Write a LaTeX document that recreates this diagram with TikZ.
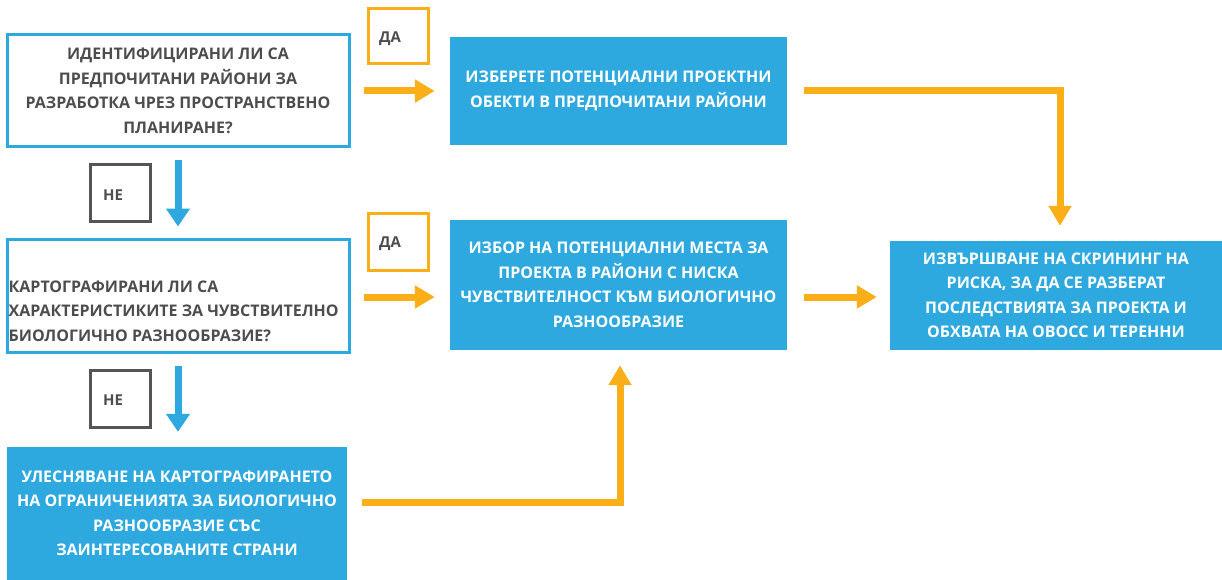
\documentclass[tikz,border=0pt]{standalone}
\usepackage{fontspec}
\setmainfont{Open Sans}
\usetikzlibrary{arrows.meta,calc}
\definecolor{flowblue}{RGB}{46,169,223}
\definecolor{floworange}{RGB}{250,174,23}
\definecolor{flowgrey}{RGB}{77,77,77}
\definecolor{flowdark}{RGB}{85,85,85}
\tikzset{
  base/.style={font=\fontsize{16}{24.5}\selectfont\bfseries, inner sep=0pt, align=center},
  question/.style={base, draw=flowblue, line width=3pt, text=flowgrey},
  action/.style={base, fill=flowblue, text=white},
  answer/.style={base, text=flowgrey, font=\fontsize{15}{17}\selectfont\bfseries},
  yesbox/.style={draw=floworange, line width=3pt, minimum width=60pt, minimum height=55pt},
  nobox/.style={draw=flowdark, line width=3pt, minimum width=60pt, minimum height=56pt},
  oarrow/.style={draw=floworange, line width=7pt, line cap=butt,
    -{Triangle[length=20pt,width=22pt]}},
  barrow/.style={draw=flowblue, line width=7pt, line cap=butt,
    -{Triangle[length=18pt,width=23pt]}}
}
\begin{document}
\begin{tikzpicture}[x=1pt,y=-1pt]
\useasboundingbox (0,0) rectangle (1222,580);

% decision boxes
\node[question, minimum width=342pt, minimum height=112pt] (q1) at (178,91)
  {ИДЕНТИФИЦИРАНИ ЛИ СА\\ПРЕДПОЧИТАНИ РАЙОНИ ЗА\\РАЗРАБОТКА ЧРЕЗ ПРОСТРАНСТВЕНО\\ПЛАНИРАНЕ?};
\node[question, minimum width=342pt, minimum height=113pt] (q2) at (178,295.5) {};
\node[base, text=flowgrey, align=left, anchor=south west] (q2text) at ([shift={(3pt,12pt)}]q2.south west)
  {КАРТОГРАФИРАНИ ЛИ СА\\ХАРАКТЕРИСТИКИТЕ ЗА ЧУВСТВИТЕЛНО\\БИОЛОГИЧНО РАЗНООБРАЗИЕ?};

% action boxes
\node[action, minimum width=337pt, minimum height=108pt] (A) at (618.5,91)
  {ИЗБЕРЕТЕ ПОТЕНЦИАЛНИ ПРОЕКТНИ\\ОБЕКТИ В ПРЕДПОЧИТАНИ РАЙОНИ};
\node[action, minimum width=337pt, minimum height=130pt] (B) at (618.5,285)
  {ИЗБОР НА ПОТЕНЦИАЛНИ МЕСТА ЗА\\ПРОЕКТА В РАЙОНИ С НИСКА\\ЧУВСТВИТЕЛНОСТ КЪМ БИОЛОГИЧНО\\РАЗНООБРАЗИЕ};
\node[action, minimum width=340pt, minimum height=133pt] (C) at (177,513.5)
  {УЛЕСНЯВАНЕ НА КАРТОГРАФИРАНЕТО\\НА ОГРАНИЧЕНИЯТА ЗА БИОЛОГИЧНО\\РАЗНООБРАЗИЕ СЪС\\ЗАИНТЕРЕСОВАНИТЕ СТРАНИ};
\node[action, minimum width=332pt, minimum height=109pt] (D) at (1056,295.5)
  {ИЗВЪРШВАНЕ НА СКРИНИНГ НА\\РИСКА, ЗА ДА СЕ РАЗБЕРАТ\\ПОСЛЕДСТВИЯТА ЗА ПРОЕКТА И\\ОБХВАТА НА ОВОСС И ТЕРЕННИ};

% answer labels
\node[yesbox] (yes1) at (398,36) {};
\node[answer] (yes1t) at (390,39) {ДА};
\node[yesbox, minimum height=57pt] (yes2) at (398,241.5) {};
\node[answer] (yes2t) at (390,244) {ДА};
\node[nobox] (no1) at (120,193) {};
\node[answer] (no1t) at (113,195) {НЕ};
\node[nobox, minimum height=57pt] (no2) at (120,398.5) {};
\node[answer] (no2t) at (113,400) {НЕ};

% connectors
\draw[oarrow, shorten <=13pt, shorten >=15pt] (q1.east) -- (q1.east -| A.west);
\draw[oarrow, shorten <=17pt, shorten >=15pt] (A.east) -| ([xshift=4pt]D.north);
\draw[oarrow, shorten <=13pt, shorten >=15pt] ([yshift=-1.5pt]q2.east) -- ([yshift=-1.5pt]q2.east -| B.west);
\draw[oarrow, shorten <=17pt, shorten >=13pt] ([yshift=-1.5pt]B.east |- D.west) -- ([yshift=-1.5pt]D.west);
\draw[oarrow, shorten <=15pt, shorten >=15pt] ([yshift=11.5pt]C.east) -| ([xshift=1.5pt]B.south);
\draw[barrow, shorten <=12pt, shorten >=11pt] (q1.south) -- (q2.north);
\draw[barrow, shorten <=12pt, shorten >=15pt] (q2.south) -- (q2.south |- C.north);
\end{tikzpicture}
\end{document}
